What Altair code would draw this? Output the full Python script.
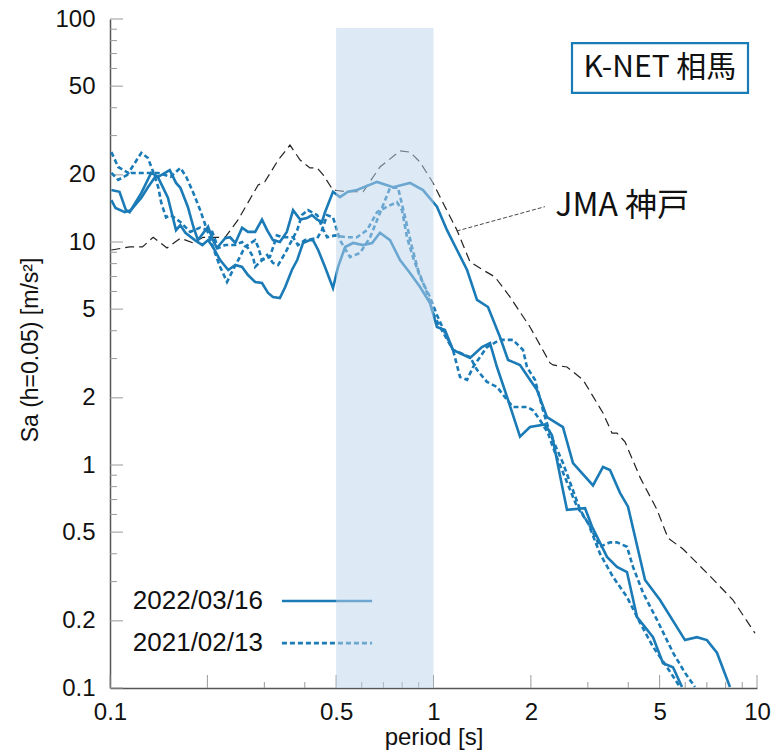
import altair as alt
import pandas as pd

# ---- response spectra (period [s], Sa [m/s^2]) ----
# K-NET Soma, 2022/03/16, two horizontal components
eq2022_a_T = [0.101, 0.107, 0.112, 0.115, 0.125, 0.134, 0.141, 0.153, 0.160, 0.165,
              0.174, 0.181, 0.187, 0.201, 0.208, 0.214, 0.227, 0.235, 0.244, 0.256,
              0.267, 0.281, 0.295, 0.306, 0.319, 0.335, 0.352, 0.368, 0.387, 0.406,
              0.421, 0.437, 0.452, 0.462, 0.489, 0.514, 0.544, 0.580, 0.669, 0.750,
              0.846, 0.928, 1.025, 1.101, 1.182, 1.270, 1.363, 1.474, 1.605, 1.700,
              1.851, 1.987, 2.089, 2.243, 2.513, 2.699, 3.112, 3.342, 3.512, 3.772,
              3.993, 4.508, 5.015, 5.990, 6.52, 7.00, 7.52, 8.25]
eq2022_a_Sa = [17.1, 16.8, 13.9, 13.6, 16.6, 20.4, 19.6, 21.0, 18.4, 17.5,
               14.4, 11.7, 10.2, 11.7, 10.2, 9.40, 10.4, 10.5, 9.90, 11.6,
               11.1, 11.1, 12.6, 11.3, 10.2, 10.0, 11.1, 13.9, 12.6, 12.8,
               13.2, 12.6, 12.3, 13.6, 16.8, 15.9, 16.8, 17.1, 18.6, 17.6,
               18.4, 17.1, 14.4, 11.3, 9.21, 7.49, 5.50, 5.11, 3.75, 2.96,
               2.81, 2.41, 2.17, 1.64, 1.48, 1.02, 0.81, 0.98, 0.95, 0.75,
               0.65, 0.305, 0.248, 0.164, 0.169, 0.164, 0.144, 0.101]

eq2022_b_T = [0.101, 0.104, 0.111, 0.116, 0.125, 0.131, 0.138, 0.141, 0.146, 0.151,
              0.157, 0.160, 0.165, 0.171, 0.183, 0.193, 0.201, 0.208, 0.219, 0.232,
              0.244, 0.256, 0.267, 0.281, 0.295, 0.308, 0.319, 0.335, 0.348, 0.365,
              0.379, 0.395, 0.415, 0.424, 0.440, 0.462, 0.489, 0.507, 0.533, 0.564,
              0.606, 0.646, 0.683, 0.734, 0.788, 0.846, 0.909, 0.975, 1.025, 1.085,
              1.149, 1.297, 1.412, 1.495, 1.571, 1.688, 1.851, 1.987, 2.211, 2.324,
              2.513, 2.586, 2.941, 3.090, 3.438, 3.692, 3.964, 4.257, 4.771, 5.122,
              5.500, 5.864]
eq2022_b_Sa = [15.4, 14.2, 13.6, 13.9, 15.8, 17.6, 19.6, 19.4, 17.5, 15.8,
               12.6, 11.3, 11.9, 11.0, 10.2, 9.69, 10.2, 9.50, 8.30, 7.49,
               7.89, 7.73, 7.11, 6.62, 6.55, 5.91, 5.67, 5.61, 6.28, 7.49,
               8.30, 9.90, 10.2, 10.2, 9.21, 7.73, 6.22, 7.73, 9.50, 9.90,
               9.69, 9.90, 11.0, 10.2, 8.30, 7.26, 6.28, 5.33, 4.16, 4.03,
               3.28, 3.02, 3.38, 3.52, 2.75, 2.02, 1.34, 1.48, 1.52, 1.36,
               0.77, 0.63, 0.64, 0.53, 0.387, 0.349, 0.331, 0.208, 0.169, 0.129,
               0.124, 0.101]

# K-NET Soma, 2021/02/13, two horizontal components
eq2021_a_T = [0.101, 0.106, 0.116, 0.128, 0.141, 0.154, 0.165, 0.172, 0.181, 0.190,
              0.198, 0.208, 0.219, 0.230, 0.240, 0.252, 0.261, 0.281, 0.287, 0.295,
              0.306, 0.319, 0.331, 0.348, 0.365, 0.379, 0.392, 0.409, 0.437, 0.452,
              0.469, 0.496, 0.540, 0.580, 0.623, 0.669, 0.718, 0.771, 0.799, 0.828,
              0.864, 0.909, 0.975, 1.025, 1.085, 1.149, 1.208, 1.270, 1.325, 1.463,
              1.605, 1.761, 1.891, 1.945, 2.059, 2.180, 2.291, 2.513, 2.838, 3.047,
              3.271, 3.512, 3.692, 3.964, 4.138, 4.444, 4.909, 5.500, 5.990, 6.43]
eq2021_a_Sa = [20.4, 19.0, 20.4, 20.4, 20.4, 19.6, 21.5, 19.6, 16.6, 13.9,
               11.7, 9.50, 7.73, 6.62, 7.49, 8.56, 9.50, 10.2, 9.50, 8.30,
               8.75, 8.05, 7.89, 8.93, 10.2, 11.3, 13.2, 13.9, 13.2, 11.7,
               10.5, 10.7, 10.5, 10.5, 11.3, 13.6, 14.4, 15.1, 13.9, 10.5,
               8.56, 6.97, 5.67, 4.71, 3.91, 3.28, 2.48, 2.41, 2.75, 3.38,
               3.64, 3.64, 3.28, 2.75, 2.41, 1.76, 1.39, 1.02, 0.63, 0.53,
               0.43, 0.45, 0.45, 0.43, 0.349, 0.267, 0.202, 0.144, 0.117, 0.101]

eq2021_b_T = [0.101, 0.106, 0.114, 0.125, 0.131, 0.136, 0.141, 0.144, 0.149, 0.154,
              0.165, 0.177, 0.190, 0.207, 0.216, 0.227, 0.244, 0.256, 0.267, 0.277,
              0.281, 0.295, 0.312, 0.328, 0.342, 0.368, 0.381, 0.401, 0.437, 0.452,
              0.469, 0.489, 0.514, 0.552, 0.593, 0.637, 0.683, 0.734, 0.777, 0.817,
              0.858, 0.896, 0.955, 0.997, 1.047, 1.149, 1.297, 1.363, 1.463, 1.571,
              1.688, 1.761, 1.945, 2.030, 2.134, 2.259, 2.341, 2.495, 2.777, 3.004,
              3.271, 3.588, 3.964, 4.350, 4.771, 5.270, 5.781]
eq2021_b_Sa = [25.3, 21.7, 20.4, 25.1, 23.8, 20.6, 17.6, 15.0, 12.9, 13.2,
               12.3, 11.1, 11.6, 11.1, 9.40, 9.69, 9.69, 10.0, 9.40, 8.56,
               7.73, 8.30, 8.56, 10.7, 10.5, 10.5, 9.69, 10.2, 10.4, 11.3,
               13.2, 12.9, 10.2, 8.56, 8.93, 10.5, 13.5, 17.5, 17.5, 12.9,
               9.50, 7.49, 5.91, 4.80, 4.16, 3.28, 3.05, 2.67, 2.36, 2.24,
               1.96, 1.82, 1.82, 1.76, 1.59, 1.39, 1.20, 0.95, 0.65, 0.55,
               0.40, 0.315, 0.256, 0.196, 0.153, 0.124, 0.101]

# JMA Kobe (1995) reference spectrum
kobe_T = [0.101, 0.115, 0.126, 0.136, 0.150, 0.165, 0.181, 0.194, 0.227, 0.249,
          0.287, 0.301, 0.331, 0.360, 0.387, 0.415, 0.437, 0.456, 0.489, 0.540,
          0.606, 0.683, 0.788, 0.846, 0.909, 0.997, 1.085, 1.182, 1.297, 1.422,
          1.549, 1.724, 1.987, 2.291, 2.341, 2.586, 2.899, 3.342, 3.563, 3.692,
          3.908, 4.350, 4.909, 5.308, 5.906, 7.00, 8.43, 9.86]
kobe_Sa = [9.21, 9.50, 9.50, 10.5, 9.40, 10.4, 9.90, 10.5, 10.5, 12.6,
           18.0, 18.6, 23.3, 27.2, 23.3, 21.5, 21.5, 20.0, 17.1, 16.8,
           16.8, 21.7, 25.6, 25.3, 22.8, 18.4, 14.4, 11.3, 8.14, 7.49,
           6.97, 5.67, 4.16, 2.87, 2.81, 2.75, 2.41, 1.71, 1.39, 1.39,
           1.27, 0.88, 0.63, 0.47, 0.42, 0.328, 0.248, 0.176]

# highlighted period band [s]
band_T = [0.5, 1.0]

# axis tick values
x_labels = [0.1, 0.5, 1, 2, 5, 10]
x_major = [0.1, 0.2, 0.5, 1, 2, 5, 10]
x_minor = [0.3, 0.4, 0.6, 0.7, 0.8, 0.9, 3, 4, 6, 7, 8, 9]
y_labels = [0.1, 0.2, 0.5, 1, 2, 5, 10, 20, 50, 100]
y_minor = [0.3, 0.4, 0.6, 0.7, 0.8, 0.9, 3, 4, 6, 7, 8, 9, 30, 40, 60, 70, 80, 90]

# legend entries
legend_labels = ["2022/03/16", "2021/02/13"]
legend_Sa = [0.2455, 0.159]
legend_T = [0.297, 0.340, 0.646]

# annotations
station_label = "K-NET 相馬"
station_box_T = [2.68, 9.38]
station_box_Sa = [46.6, 78.0]
station_pos = [5.01, 60.3]
kobe_label = "JMA 神戸"
kobe_label_pos = [2.38, 14.5]
kobe_leader_T = [1.18, 2.21]
kobe_leader_Sa = [11.2, 14.4]

# ---- chart ----
W, H = 647, 669
BLUE = "#1b7bb7"
FONT = "Liberation Sans"
CJK = "Noto Sans CJK JP"

xs = alt.Scale(type="log", domain=[0.1, 10], nice=False)
ys = alt.Scale(type="log", domain=[0.1, 100], nice=False)

x_axis = alt.Axis(values=x_labels, format="~g", ticks=False, grid=False,
                  domainColor="#555", domainWidth=1.5,
                  labelFont=FONT, labelFontSize=24, labelColor="#111",
                  labelPadding=12, labelFlush=False, labelOverlap=False,
                  titleFont=FONT, titleFontSize=24, titleFontWeight="normal",
                  titleColor="#111", titleY=37, titleBaseline="top")
y_axis = alt.Axis(values=y_labels, format="~g", ticks=False, grid=False,
                  domainColor="#555", domainWidth=1.5,
                  labelFont=FONT, labelFontSize=24, labelColor="#111",
                  labelPadding=15, labelFlush=False, labelOverlap=False,
                  titleFont=FONT, titleFontSize=23, titleFontWeight="normal",
                  titleColor="#111", titleX=-68, titleY=H / 2 - 4,
                  titleAlign="center", titleBaseline="bottom")

X = alt.X("T:Q", scale=xs, axis=x_axis, title="period [s]")
Y = alt.Y("Sa:Q", scale=ys, axis=y_axis, title="Sa (h=0.05) [m/s²]")


def spectrum(T, Sa):
    return pd.DataFrame({"T": T, "Sa": Sa, "i": list(range(len(T)))})


def line(T, Sa, **style):
    return alt.Chart(spectrum(T, Sa)).mark_line(clip=True, **style).encode(
        x=X, y=Y, order="i:Q")


solid = dict(color=BLUE, strokeWidth=2.6)
dotted = dict(color=BLUE, strokeWidth=2.6, strokeDash=[5, 3])

# inward axis ticks
y_ticks = pd.DataFrame({"Sa": y_labels + y_minor,
                        "major": [True] * len(y_labels) + [False] * len(y_minor)})
x_ticks = pd.DataFrame({"T": x_major + x_minor,
                        "major": [True] * len(x_major) + [False] * len(x_minor)})
tick_style = dict(color="#9a9a9a", strokeWidth=1)
y_tick_major = alt.Chart(y_ticks).transform_filter("datum.major").mark_rule(**tick_style).encode(
    y=Y, x=alt.value(0), x2=alt.value(13))
y_tick_minor = alt.Chart(y_ticks).transform_filter("!datum.major").mark_rule(**tick_style).encode(
    y=Y, x=alt.value(0), x2=alt.value(7))
x_tick_major = alt.Chart(x_ticks).transform_filter("datum.major").mark_rule(**tick_style).encode(
    x=X, y=alt.value(H), y2=alt.value(H - 13))
x_tick_minor = alt.Chart(x_ticks).transform_filter("!datum.major").mark_rule(**tick_style).encode(
    x=X, y=alt.value(H), y2=alt.value(H - 6))

kobe = line(kobe_T, kobe_Sa, color="#222", strokeWidth=1.2, strokeDash=[9, 5])
a22 = line(eq2022_a_T, eq2022_a_Sa, **solid)
b22 = line(eq2022_b_T, eq2022_b_Sa, **solid)
a21 = line(eq2021_a_T, eq2021_a_Sa, **dotted)
b21 = line(eq2021_b_T, eq2021_b_Sa, **dotted)

# legend (drawn in data space, lower left)
leg = pd.DataFrame({"label": legend_labels, "Sa": legend_Sa,
                    "T": [legend_T[0]] * 2, "T1": [legend_T[1]] * 2, "T2": [legend_T[2]] * 2,
                    "dash": [False, True]})
leg_text = alt.Chart(leg).mark_text(align="right", baseline="middle", font=FONT,
                                    fontSize=26, color="#111").encode(x=X, y=Y, text="label:N")
leg_solid = alt.Chart(leg).transform_filter("!datum.dash").mark_rule(**solid).encode(
    x=alt.X("T1:Q", scale=xs, axis=x_axis, title="period [s]"), x2="T2:Q", y=Y)
leg_dotted = alt.Chart(leg).transform_filter("datum.dash").mark_rule(**dotted).encode(
    x=alt.X("T1:Q", scale=xs, axis=x_axis, title="period [s]"), x2="T2:Q", y=Y)

# highlighted period range, drawn over the curves
band = alt.Chart(pd.DataFrame({"T": [band_T[0]], "T2": [band_T[1]]})).mark_rect(
    color="#bbd3e9", opacity=0.5).encode(x=X, x2="T2:Q", y=alt.value(9), y2=alt.value(H))

# station label box
box = alt.Chart(pd.DataFrame({"T": [station_box_T[0]], "T2": [station_box_T[1]],
                              "Sa": [station_box_Sa[0]], "Sa2": [station_box_Sa[1]]})).mark_rect(
    fill="white", stroke=BLUE, strokeWidth=2.2).encode(x=X, x2="T2:Q", y=Y, y2="Sa2:Q")
box_text = alt.Chart(pd.DataFrame({"T": [station_pos[0]], "Sa": [station_pos[1]],
                                   "label": [station_label]})).mark_text(
    font=CJK, fontSize=30, color="#111", align="center", baseline="middle").encode(
    x=X, y=Y, text="label:N")

# JMA Kobe label with leader line
leader = alt.Chart(pd.DataFrame({"T": [kobe_leader_T[0]], "T2": [kobe_leader_T[1]],
                                 "Sa": [kobe_leader_Sa[0]], "Sa2": [kobe_leader_Sa[1]]})).mark_rule(
    color="#333", strokeWidth=0.9, strokeDash=[4, 2]).encode(x=X, x2="T2:Q", y=Y, y2="Sa2:Q")
kobe_text = alt.Chart(pd.DataFrame({"T": [kobe_label_pos[0]], "Sa": [kobe_label_pos[1]],
                                    "label": [kobe_label]})).mark_text(
    font=CJK, fontSize=32, color="#111", align="left", baseline="middle").encode(
    x=X, y=Y, text="label:N")

chart = alt.layer(
    y_tick_major, y_tick_minor, x_tick_major, x_tick_minor,
    kobe, b21, a21, b22, a22,
    leg_solid, leg_dotted, leg_text,
    band,
    leader, kobe_text, box, box_text,
).properties(
    width=W, height=H,
    autosize=alt.AutoSizeParams(type="none"),
    padding={"left": 110, "top": 19, "right": 16, "bottom": 67},
).configure_view(stroke=None)

chart.save("out.html", embed_options={"renderer": "svg", "actions": False})
